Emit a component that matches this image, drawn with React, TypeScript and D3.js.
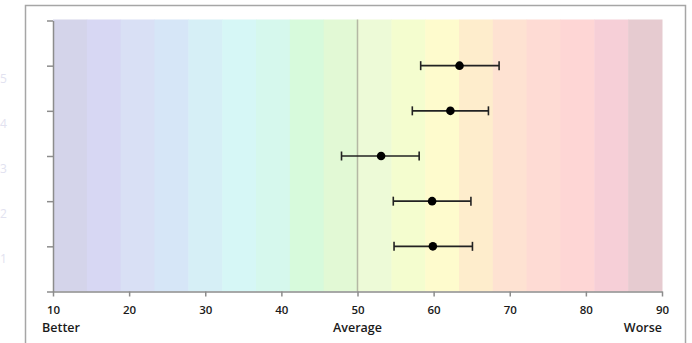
import React, { useEffect, useRef } from "react";
import * as d3 from "d3";

const rows = [1, 2, 3, 4, 5];
const lower = [54.8, 54.7, 47.9, 57.2, 58.3];
const mid = [59.9, 59.8, 53.1, 62.2, 63.4];
const upper = [65.1, 64.9, 58.1, 67.2, 68.6];

const xTicks = [10, 20, 30, 40, 50, 60, 70, 80, 90];
const bandColors = [
  "#d4d4ea", "#d7d7f3", "#d9e0f5", "#d6e6f7", "#d6eff6", "#d6f7f6",
  "#d6f8ed", "#d7fadc", "#e2f9d5", "#edfad7", "#f4fdcf", "#fefbcd",
  "#feedcc", "#fee2d2", "#fedbd4", "#fed6d5", "#f6cfd7", "#e6cbd0",
];

const width = 692;
const height = 343;

const App = () => {
  const ref = useRef<SVGSVGElement>(null);

  useEffect(() => {
    const svg = d3.select(ref.current);
    svg.selectAll("*").remove();

    const x = d3.scaleLinear().domain([10, 90]).range([53, 662]);
    const y = d3.scaleLinear().domain([0, 6]).range([291.5, 20.5]);
    const font = "'Open Sans', 'DejaVu Sans', sans-serif";

    // outer frame
    svg
      .append("rect")
      .attr("x", 25.5)
      .attr("y", 5.5)
      .attr("width", 660)
      .attr("height", 400)
      .attr("fill", "white")
      .attr("stroke", "#a6a6a6")
      .attr("stroke-width", 1.5);

    // coloured bands
    const step = 80 / bandColors.length;
    svg
      .append("g")
      .selectAll("rect")
      .data(bandColors)
      .enter()
      .append("rect")
      .attr("x", (d, i) => x(10 + i * step))
      .attr("y", y(6) - 1)
      .attr("width", (d, i) => x(10 + (i + 1) * step) - x(10 + i * step) + 0.5)
      .attr("height", y(0) - y(6) + 1)
      .attr("fill", (d) => d);

    // average line
    svg
      .append("line")
      .attr("x1", x(50))
      .attr("x2", x(50))
      .attr("y1", y(6) - 1)
      .attr("y2", y(0))
      .attr("stroke", "#b4b8a4")
      .attr("stroke-width", 1.5);

    // axes
    const xAxis = svg
      .append("g")
      .attr("transform", `translate(0,${y(0)})`)
      .call(d3.axisBottom(x).tickValues(xTicks).tickSize(5).tickSizeOuter(0));
    xAxis.select(".domain").attr("stroke", "#8c8c8c").attr("stroke-width", 1.5);
    xAxis.selectAll(".tick line").attr("stroke", "#8c8c8c").attr("stroke-width", 1.5);
    xAxis
      .selectAll(".tick text")
      .attr("y", 14)
      .attr("fill", "#1a1a1a")
      .style("font-family", font)
      .style("font-size", "11.5px")
      .style("font-weight", 600);

    const yAxis = svg
      .append("g")
      .attr("transform", `translate(${x(10)},0)`)
      .call(d3.axisLeft(y).ticks(6).tickSize(6).tickSizeOuter(0).tickFormat(() => ""));
    yAxis.select(".domain").attr("stroke", "#8c8c8c").attr("stroke-width", 1.5);
    yAxis.selectAll(".tick line").attr("stroke", "#8c8c8c").attr("stroke-width", 1.5);

    // faint row labels
    svg
      .append("g")
      .selectAll("text")
      .data(rows)
      .enter()
      .append("text")
      .attr("x", 0)
      .attr("y", (d) => y(d) + 17)
      .attr("fill", "#e2e2f0")
      .style("font-family", font)
      .style("font-size", "12px")
      .text((d) => d);

    // axis captions
    const captions = [
      { text: "Better", v: 10, anchor: "start", dx: -11 },
      { text: "Average", v: 50, anchor: "middle", dx: 0 },
      { text: "Worse", v: 90, anchor: "end", dx: 0 },
    ];
    svg
      .append("g")
      .selectAll("text")
      .data(captions)
      .enter()
      .append("text")
      .attr("x", (d) => x(d.v) + d.dx)
      .attr("y", 332)
      .attr("text-anchor", (d) => d.anchor)
      .attr("fill", "#1a1a1a")
      .style("font-family", font)
      .style("font-size", "12.5px")
      .style("font-weight", 600)
      .text((d) => d.text);

    // error bars
    const g = svg.append("g");
    rows.forEach((r, i) => {
      const cy = y(r);
      g.append("line")
        .attr("x1", x(lower[i]))
        .attr("x2", x(upper[i]))
        .attr("y1", cy)
        .attr("y2", cy)
        .attr("stroke", "#222")
        .attr("stroke-width", 1.6);
      [lower[i], upper[i]].forEach((v) => {
        g.append("line")
          .attr("x1", x(v))
          .attr("x2", x(v))
          .attr("y1", cy - 4.5)
          .attr("y2", cy + 4.5)
          .attr("stroke", "#222")
          .attr("stroke-width", 1.6);
      });
      g.append("circle")
        .attr("cx", x(mid[i]))
        .attr("cy", cy)
        .attr("r", 4.3)
        .attr("fill", "#000");
    });
  }, []);

  return (
    <svg
      ref={ref}
      width={width}
      height={height}
      style={{ position: "absolute", left: 0, top: 0, background: "white" }}
    />
  );
};

export default App;
